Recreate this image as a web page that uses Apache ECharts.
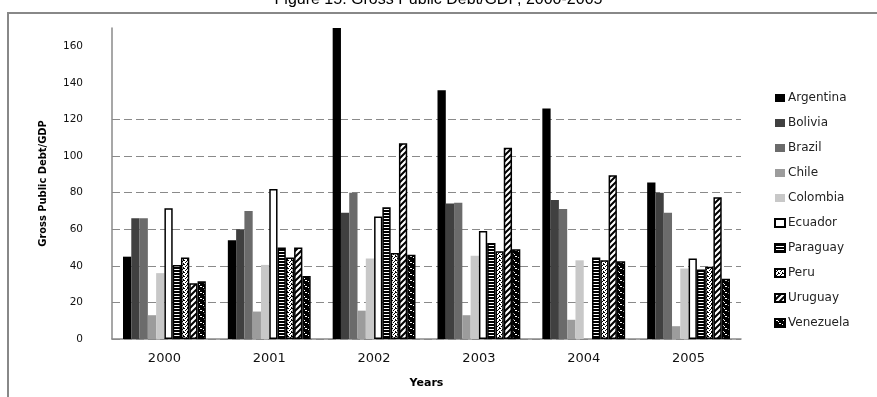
<!DOCTYPE html>
<html>
<head>
<meta charset="utf-8">
<script src="https://cdn.jsdelivr.net/npm/echarts@6/dist/echarts.min.js"></script>
<style>
  html, body { margin: 0; padding: 0; background: #fff; }
  #chart { width: 877px; height: 397px; }
</style>
</head>
<body>
<div id="chart"></div>
<script>
// Gross public debt as a share of GDP, by country and year
const years = ['2000', '2001', '2002', '2003', '2004', '2005'];
const countries = ['Argentina', 'Bolivia', 'Brazil', 'Chile', 'Colombia', 'Ecuador', 'Paraguay', 'Peru', 'Uruguay', 'Venezuela'];

const argentina = [45, 54, 170, 136, 126, 85.5];
const bolivia   = [66, 60, 69, 74, 76, 80];
const brazil    = [66, 70, 80, 74.5, 71, 69];
const chile     = [13, 15, 15.5, 13, 10.5, 7];
const colombia  = [36, 40.5, 44, 45.5, 43, 38.5];
const ecuador   = [71.5, 82, 67, 59, null, 44];
const paraguay  = [40.5, 50, 72, 52.5, 44.5, 38];
const peru      = [44.5, 44.5, 47, 48, 43, 39.5];
const uruguay   = [30.5, 50, 107, 104.5, 89.5, 77.5];
const venezuela = [31.5, 34.5, 46, 49, 42.5, 33];

const seriesValues = [argentina, bolivia, brazil, chile, colombia, ecuador, paraguay, peru, uruguay, venezuela];

// y axis: labels every 20, dashed guide lines only up to 120
const yMax = 170;
const yStep = 20;
const guideTop = 120;

function pattern(w, h, draw) {
  const c = document.createElement('canvas');
  c.width = w; c.height = h;
  const ctx = c.getContext('2d');
  draw(ctx);
  return { image: c, repeat: 'repeat' };
}

const stripes = pattern(3, 3, ctx => {
  ctx.fillStyle = '#fff'; ctx.fillRect(0, 0, 3, 3);
  ctx.fillStyle = '#000'; ctx.fillRect(0, 0, 3, 2);
});
const speckle = pattern(4, 4, ctx => {
  ctx.fillStyle = '#fff'; ctx.fillRect(0, 0, 4, 4);
  ctx.fillStyle = '#000';
  [[0, 0], [2, 1], [1, 2], [3, 3], [3, 0]].forEach(p => ctx.fillRect(p[0], p[1], 1, 1));
});
const hatch = pattern(6, 6, ctx => {
  ctx.fillStyle = '#fff'; ctx.fillRect(0, 0, 6, 6);
  ctx.strokeStyle = '#000'; ctx.lineWidth = 2;
  ctx.beginPath();
  ctx.moveTo(-1, 7); ctx.lineTo(7, -1);
  ctx.moveTo(-4, 4); ctx.lineTo(4, -4);
  ctx.moveTo(2, 10); ctx.lineTo(10, 2);
  ctx.stroke();
});
const waves = pattern(7, 6, ctx => {
  ctx.fillStyle = '#000'; ctx.fillRect(0, 0, 7, 6);
  ctx.fillStyle = '#fff';
  ctx.fillRect(1, 1, 2, 1); ctx.fillRect(3, 2, 1, 1);
  ctx.fillRect(4, 4, 2, 1); ctx.fillRect(0, 5, 1, 1);
});

const styles = [
  { color: '#000000' },
  { color: '#404040' },
  { color: '#6b6b6b' },
  { color: '#9c9c9c' },
  { color: '#c8c8c8' },
  { color: '#ffffff', borderColor: '#000', borderWidth: 1.5 },
  { color: stripes, borderColor: '#000', borderWidth: 1.5 },
  { color: speckle, borderColor: '#000', borderWidth: 1.5 },
  { color: hatch, borderColor: '#000', borderWidth: 1.5 },
  { color: waves, borderColor: '#000', borderWidth: 1.5 }
];

// split-line colours in tick order: visible up to the top guide line, hidden above
const splitColors = [];
for (let v = 0; v <= yMax; v += yStep) splitColors.push(v <= guideTop ? '#8a8a8a' : 'rgba(0,0,0,0)');
splitColors.push('rgba(0,0,0,0)');

const chart = echarts.init(document.getElementById('chart'), null, { renderer: 'canvas' });

chart.setOption({
  animation: false,
  backgroundColor: '#fff',
  title: {
    text: 'Figure 15: Gross Public Debt/GDP, 2000-2005',
    left: 'center',
    top: -13,
    textStyle: { fontFamily: 'Liberation Sans', fontSize: 16, fontWeight: 'normal', color: '#000' }
  },
  graphic: [{
    type: 'rect',
    shape: { x: 8, y: 13, width: 900, height: 420 },
    style: { fill: 'none', stroke: '#888', lineWidth: 2 },
    silent: true,
    z: -1
  }],
  legend: {
    orient: 'vertical',
    left: 769,
    top: 86,
    itemWidth: 10,
    itemHeight: 8,
    itemGap: 11,
    icon: 'rect',
    textStyle: { fontFamily: 'DejaVu Sans', fontSize: 12, color: '#222', lineHeight: 14, padding: [0, 0, 0, -2] },
    data: countries
  },
  grid: { left: 112, right: 136, top: 28, bottom: 58, containLabel: false },
  xAxis: {
    type: 'category',
    data: years,
    name: 'Years',
    nameLocation: 'middle',
    nameGap: 39,
    nameTextStyle: { fontFamily: 'DejaVu Sans', fontSize: 11, fontWeight: 'bold', color: '#000' },
    axisLine: { lineStyle: { color: '#8a8a8a', width: 1.5 } },
    axisTick: { show: false },
    axisLabel: { fontFamily: 'DejaVu Sans', fontSize: 13, color: '#111', margin: 13 }
  },
  yAxis: {
    type: 'value',
    min: 0,
    max: yMax,
    interval: yStep,
    name: 'Gross Public Debt/GDP',
    nameLocation: 'middle',
    nameGap: 63,
    nameRotate: 90,
    nameTextStyle: { fontFamily: 'DejaVu Sans Condensed', fontSize: 11, fontWeight: 'bold', color: '#000' },
    axisLine: { show: true, lineStyle: { color: '#8a8a8a', width: 1.5 } },
    axisTick: { show: false },
    axisLabel: { fontFamily: 'DejaVu Sans', fontSize: 10.5, color: '#111', margin: 29, showMaxLabel: false },
    splitLine: { show: true, lineStyle: { color: splitColors, type: [8, 4], width: 1 } }
  },
  series: countries.map((name, i) => ({
    name,
    type: 'bar',
    data: seriesValues[i],
    barGap: '0%',
    barCategoryGap: '21%',
    itemStyle: styles[i],
    emphasis: { disabled: true }
  }))
});
</script>
</body>
</html>
